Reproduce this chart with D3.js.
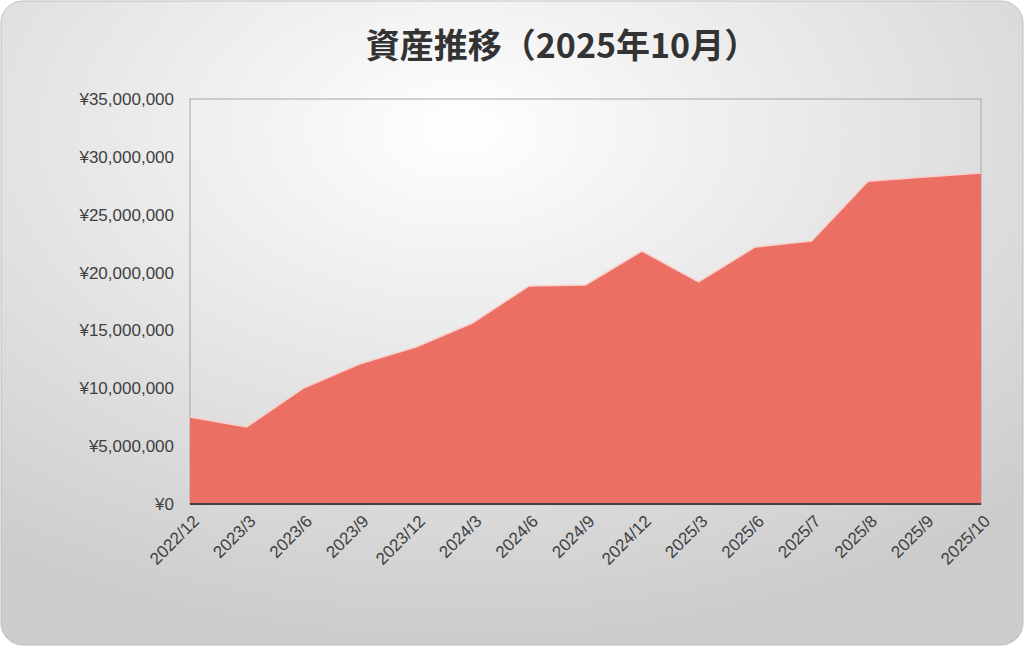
<!DOCTYPE html>
<html><head><meta charset="utf-8">
<script src="https://cdn.jsdelivr.net/npm/d3@7"></script>
<style>body{margin:0;background:#fff}svg{display:block}</style></head>
<body><svg id="c" width="1024" height="646"></svg>
<script>
const categories=["2022/12","2023/3","2023/6","2023/9","2023/12","2024/3","2024/6","2024/9","2024/12","2025/3","2025/6","2025/7","2025/8","2025/9","2025/10"];
const values=[7520000,6650000,10000000,12100000,13570000,15640000,18840000,18930000,21860000,19190000,22200000,22730000,27900000,28260000,28600000];
const yTicks=[0,5000000,10000000,15000000,20000000,25000000,30000000,35000000];
const title="資産推移（2025年10月）";

const svg=d3.select("#c");
const defs=svg.append("defs");
const g=defs.append("radialGradient").attr("id","bg").attr("cx","45%").attr("cy","20%").attr("r","80%");
g.append("stop").attr("offset","0%").attr("stop-color","#ffffff");
g.append("stop").attr("offset","100%").attr("stop-color","#cccccc");
svg.append("rect").attr("x",1).attr("y",1).attr("width",1022).attr("height",644).attr("rx",22)
  .attr("fill","url(#bg)").attr("stroke","#bdbdbd");

const L=190,R=981,T=99,B=504;
const x=d3.scalePoint().domain(categories).range([L,R]);
const y=d3.scaleLinear().domain([0,35000000]).range([B,T]);

svg.append("rect").attr("x",L).attr("y",T).attr("width",R-L).attr("height",B-T)
  .attr("fill","none").attr("stroke","#a6a6a6");

const area=d3.area().x((d,i)=>x(categories[i])).y0(B).y1(d=>y(d));
svg.append("path").datum(values).attr("d",area).attr("fill","#ec6f64");
svg.append("path").datum(values).attr("d",d3.line().x((d,i)=>x(categories[i])).y(d=>y(d)))
  .attr("fill","none").attr("stroke","#f7d0cc").attr("stroke-width",1.5);

svg.append("line").attr("x1",L).attr("x2",R).attr("y1",B).attr("y2",B).attr("stroke","#404040").attr("stroke-width",2);

const F="'Liberation Sans', Arial, sans-serif";
const fmt=v=>"¥"+d3.format(",")(v);
svg.selectAll(".yt").data(yTicks).join("text").attr("x",L-16).attr("y",d=>y(d)).attr("dy","0.35em")
  .attr("text-anchor","end").attr("font-family",F).attr("font-size",17)
  .attr("fill","#404040").text(fmt);

svg.selectAll(".xt").data(categories).join("text")
  .attr("transform",d=>`translate(${x(d)+6},${B+14}) rotate(-45)`)
  .attr("text-anchor","end").attr("dy","0.35em")
  .attr("font-family",F).attr("font-size",17).attr("fill","#404040").text(d=>d);

svg.append("text").attr("x",562).attr("y",58).attr("text-anchor","middle")
  .attr("font-family","'Noto Sans CJK JP', sans-serif").attr("font-weight","bold").attr("font-size",34)
  .attr("fill","#333").text(title);
</script></body></html>
